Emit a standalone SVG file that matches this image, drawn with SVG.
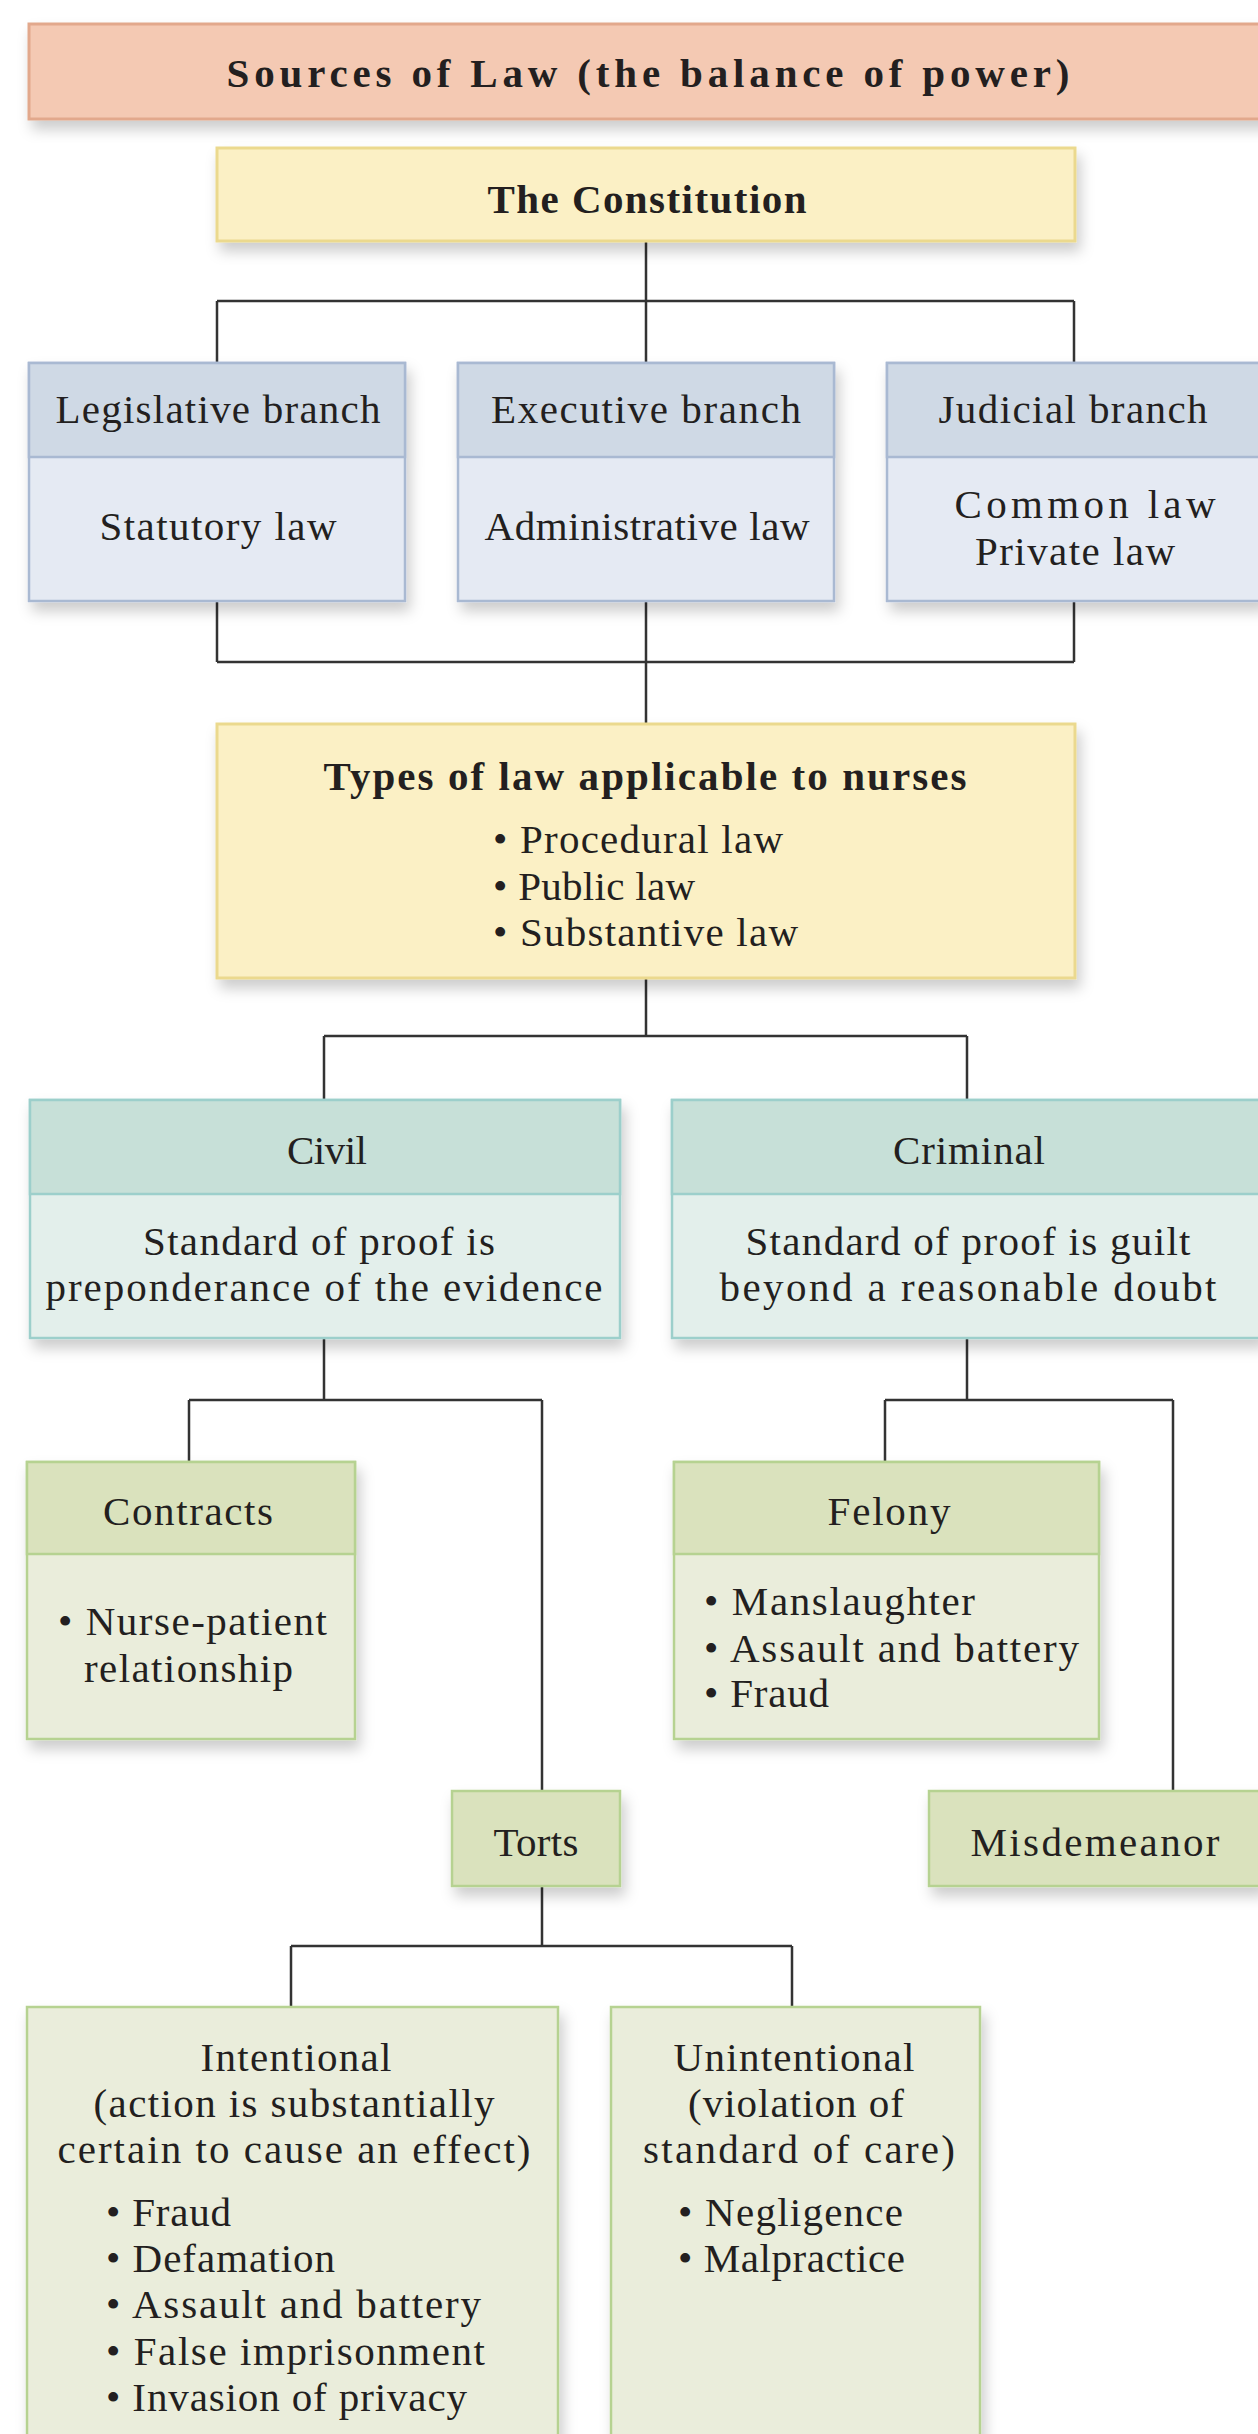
<svg xmlns="http://www.w3.org/2000/svg" width="1258" height="2434" viewBox="0 0 1258 2434">
<defs>
<filter id="sh" x="-10%" y="-10%" width="125%" height="135%">
<feDropShadow dx="4" dy="9" stdDeviation="7" flood-color="#000" flood-opacity="0.2"/>
</filter>
<style>
text{font-family:'Liberation Serif','Times New Roman',serif;fill:#231f20;font-size:41px;}
.c{text-anchor:middle;}
.b{font-weight:bold;}
.title{fill:#f4c9b3;stroke:#e2a88c;stroke-width:3;}
.yel{fill:#fbf0c5;stroke:#ebd98e;stroke-width:3;}
.bh{fill:#cfd9e5;stroke:#a9b9d2;stroke-width:2.5;}
.bb{fill:#e5eaf3;stroke:#a9b9d2;stroke-width:2.5;}
.th{fill:#c7e0d8;stroke:#9ccfcb;stroke-width:2.5;}
.tb{fill:#e3efeb;stroke:#9ccfcb;stroke-width:2.5;}
.gh{fill:#dae2bd;stroke:#b6d291;stroke-width:2.5;}
.gb{fill:#eaeddb;stroke:#b6d291;stroke-width:2.5;}
.ln{fill:none;stroke:#333;stroke-width:2.5;}
</style>
</defs>
<rect width="1258" height="2434" fill="#fff"/>

<g id="connectors" class="ln">
<path d="M646 241V301M217 301H1074M217 301V363M646 301V363M1074 301V363"/>
<path d="M217 601V662M1074 601V662M217 662H1074M646 601V724"/>
<path d="M646 978V1036M324 1036H967M324 1036V1100M967 1036V1100"/>
<path d="M324 1338V1400M189 1400H542M189 1400V1462M542 1400V1791"/>
<path d="M967 1338V1400M885 1400H1173M885 1400V1462M1173 1400V1791"/>
<path d="M542 1886V1946M291 1946H792M291 1946V2007M792 1946V2007"/>
</g>

<g id="title">
<rect class="title" x="29" y="24" width="1245" height="95" filter="url(#sh)"/>
<text class="c b" x="648" y="87" font-size="47" textLength="843" lengthAdjust="spacing">Sources of Law (the balance of power)</text>
</g>

<g id="constitution">
<rect class="yel" x="217" y="148" width="858" height="93" filter="url(#sh)"/>
<text class="c b" x="647" y="213" font-size="41" textLength="319" lengthAdjust="spacing">The Constitution</text>
</g>

<g id="legislative">
<g filter="url(#sh)">
<rect class="bb" x="29" y="363" width="376" height="238"/>
<rect class="bh" x="29" y="363" width="376" height="94"/>
</g>
<text class="c" x="218" y="423" textLength="325" lengthAdjust="spacing">Legislative branch</text>
<text class="c" x="218" y="540" textLength="237" lengthAdjust="spacing">Statutory law</text>
</g>

<g id="executive">
<g filter="url(#sh)">
<rect class="bb" x="458" y="363" width="376" height="238"/>
<rect class="bh" x="458" y="363" width="376" height="94"/>
</g>
<text class="c" x="646" y="423" textLength="310" lengthAdjust="spacing">Executive branch</text>
<text class="c" x="647" y="540" textLength="325" lengthAdjust="spacing">Administrative law</text>
</g>

<g id="judicial">
<g filter="url(#sh)">
<rect class="bb" x="887" y="363" width="376" height="238"/>
<rect class="bh" x="887" y="363" width="376" height="94"/>
</g>
<text class="c" x="1073" y="423" textLength="269" lengthAdjust="spacing">Judicial branch</text>
<text class="c" x="1085" y="518" textLength="261" lengthAdjust="spacing">Common law</text>
<text class="c" x="1075" y="565" textLength="200" lengthAdjust="spacing">Private law</text>
</g>

<g id="types">
<rect class="yel" x="217" y="724" width="858" height="254" filter="url(#sh)"/>
<text class="c b" x="645" y="790" font-size="41" textLength="643" lengthAdjust="spacing">Types of law applicable to nurses</text>
<text x="493" y="853" textLength="290" lengthAdjust="spacing">• Procedural law</text>
<text x="493" y="900" textLength="202" lengthAdjust="spacing">• Public law</text>
<text x="493" y="946" textLength="305" lengthAdjust="spacing">• Substantive law</text>
</g>

<g id="civil">
<g filter="url(#sh)">
<rect class="tb" x="30" y="1100" width="590" height="238"/>
<rect class="th" x="30" y="1100" width="590" height="94"/>
</g>
<text class="c" x="327" y="1164" textLength="80" lengthAdjust="spacing">Civil</text>
<text class="c" x="319" y="1255" textLength="352" lengthAdjust="spacing">Standard of proof is</text>
<text class="c" x="324" y="1301" textLength="557" lengthAdjust="spacing">preponderance of the evidence</text>
</g>

<g id="criminal">
<g filter="url(#sh)">
<rect class="tb" x="672" y="1100" width="590" height="238"/>
<rect class="th" x="672" y="1100" width="590" height="94"/>
</g>
<text class="c" x="969" y="1164" textLength="152" lengthAdjust="spacing">Criminal</text>
<text class="c" x="968" y="1255" textLength="445" lengthAdjust="spacing">Standard of proof is guilt</text>
<text class="c" x="968" y="1301" textLength="497" lengthAdjust="spacing">beyond a reasonable doubt</text>
</g>

<g id="contracts">
<g filter="url(#sh)">
<rect class="gb" x="27" y="1462" width="328" height="277"/>
<rect class="gh" x="27" y="1462" width="328" height="92"/>
</g>
<text class="c" x="188" y="1525" textLength="170" lengthAdjust="spacing">Contracts</text>
<text x="58" y="1635" textLength="269" lengthAdjust="spacing">• Nurse-patient</text>
<text x="84" y="1682" textLength="209" lengthAdjust="spacing">relationship</text>
</g>

<g id="felony">
<g filter="url(#sh)">
<rect class="gb" x="674" y="1462" width="425" height="277"/>
<rect class="gh" x="674" y="1462" width="425" height="92"/>
</g>
<text class="c" x="889" y="1525" textLength="123" lengthAdjust="spacing">Felony</text>
<text x="704" y="1615" textLength="271" lengthAdjust="spacing">• Manslaughter</text>
<text x="704" y="1662" textLength="375" lengthAdjust="spacing">• Assault and battery</text>
<text x="704" y="1707" textLength="125" lengthAdjust="spacing">• Fraud</text>
</g>

<g id="torts">
<rect class="gh" x="452" y="1791" width="168" height="95" filter="url(#sh)"/>
<text class="c" x="536" y="1856" textLength="85" lengthAdjust="spacing">Torts</text>
</g>

<g id="misdemeanor">
<rect class="gh" x="929" y="1791" width="333" height="95" filter="url(#sh)"/>
<text class="c" x="1095" y="1856" textLength="249" lengthAdjust="spacing">Misdemeanor</text>
</g>

<g id="intentional">
<rect class="gb" x="27" y="2007" width="531" height="460" filter="url(#sh)"/>
<text class="c" x="296" y="2071" textLength="191" lengthAdjust="spacing">Intentional</text>
<text class="c" x="294" y="2117" textLength="401" lengthAdjust="spacing">(action is substantially</text>
<text class="c" x="294" y="2163" textLength="473" lengthAdjust="spacing">certain to cause an effect)</text>
<text x="106" y="2226" textLength="125" lengthAdjust="spacing">• Fraud</text>
<text x="106" y="2272" textLength="229" lengthAdjust="spacing">• Defamation</text>
<text x="106" y="2318" textLength="375" lengthAdjust="spacing">• Assault and battery</text>
<text x="106" y="2365" textLength="379" lengthAdjust="spacing">• False imprisonment</text>
<text x="106" y="2411" textLength="361" lengthAdjust="spacing">• Invasion of privacy</text>
</g>

<g id="unintentional">
<rect class="gb" x="611" y="2007" width="369" height="460" filter="url(#sh)"/>
<text class="c" x="794" y="2071" textLength="241" lengthAdjust="spacing">Unintentional</text>
<text class="c" x="796" y="2117" textLength="216" lengthAdjust="spacing">(violation of</text>
<text class="c" x="799" y="2163" textLength="312" lengthAdjust="spacing">standard of care)</text>
<text x="678" y="2226" textLength="225" lengthAdjust="spacing">• Negligence</text>
<text x="678" y="2272" textLength="227" lengthAdjust="spacing">• Malpractice</text>
</g>
</svg>
